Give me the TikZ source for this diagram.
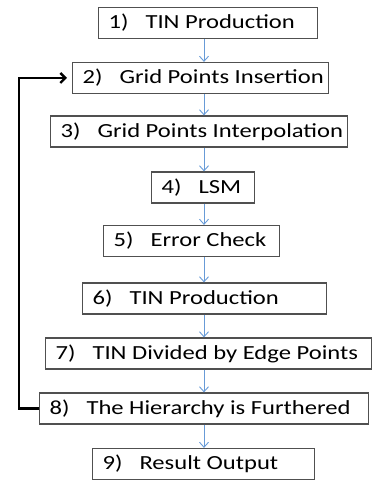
\documentclass[tikz,border=0pt]{standalone}
\usepackage{fontspec}
\setmainfont{Carlito}[FakeStretch=1.23]
\usetikzlibrary{arrows.meta}
\definecolor{flowblue}{RGB}{104,155,215}
\definecolor{boxgray}{RGB}{80,80,80}
% label of one stage: number, gap, text, in a box of fixed width
\newcommand{\stagebox}[3]{\makebox[#1pt][l]{#2)\hspace{17pt}#3}}
\begin{document}
\begin{tikzpicture}
    [ x=1pt, y=-1pt
    , every node/.style={font=\fontsize{20}{24}\selectfont}
    , stage/.style={anchor=west, draw=boxgray, line width=1.2pt, fill=white, minimum height=31pt, inner xsep=10pt, inner ysep=0pt}
    , flow/.style={draw=flowblue, line width=0.9pt, -{Straight Barb[length=5pt,width=9pt]}}
    , loopback/.style={draw=black, line width=2.4pt, -{Straight Barb[length=5pt,width=10pt]}, shorten >=5pt}
    ]
\useasboundingbox (0,0) rectangle (372,481);
\coordinate (spine) at (204,0);
\node[stage] (s1) at (98,23)    {\stagebox{199}{1}{TIN Production}};
\node[stage] (s2) at (72,78)    {\stagebox{236}{2}{Grid Points Insertion}};
\node[stage] (s3) at (50,131.5) {\stagebox{277}{3}{Grid Points Interpolation}};
\node[stage] (s4) at (151,187.5) {\stagebox{83}{4}{LSM}};
\node[stage] (s5) at (103,241)  {\stagebox{156}{5}{Error Check}};
\node[stage] (s6) at (82,298.5) {\stagebox{224}{6}{TIN Production}};
\node[stage] (s7) at (45,353.5) {\stagebox{306}{7}{TIN Divided by Edge Points}};
\node[stage] (s8) at (39,408.5) {\stagebox{309}{8}{The Hierarchy is Furthered}};
\node[stage] (s9) at (92,464)   {\stagebox{202}{9}{Result Output}};
% main chain
\foreach \a/\b in {s1/s2,s2/s3,s3/s4,s4/s5,s5/s6,s6/s7,s7/s8,s8/s9}
    \draw[flow] (\a.south -| spine) -- (\b.north -| spine);
% back to step 2
\draw[loopback] (s8.west) -- ++(-20,0) |- (s2.west);
\end{tikzpicture}
\end{document}
